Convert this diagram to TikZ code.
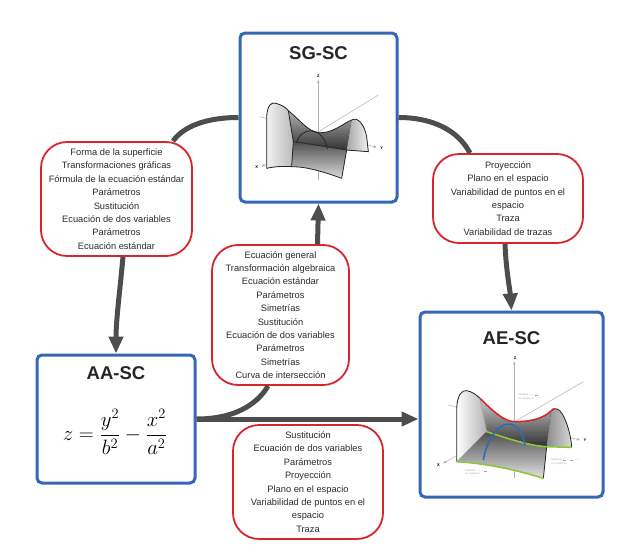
\documentclass[tikz,border=0pt]{standalone}
\usepackage{amsmath}
\usepackage{fontspec}
\setmainfont{Liberation Sans}
\usetikzlibrary{arrows.meta,calc}
\definecolor{boxblue}{HTML}{3567B5}
\definecolor{boxred}{HTML}{D7262B}
\definecolor{conncol}{HTML}{4D4D4D}
\definecolor{txt}{HTML}{2B2B2B}
\definecolor{curvered}{HTML}{D9262A}
\definecolor{curvegreen}{HTML}{8DC63F}
\definecolor{curveblue}{HTML}{2A6DB5}
% vertical gradient made of stripes: x1,x2,y1,y2,black% at y1, black% at y2
\newcommand\vstripes[6]{%
  \foreach \k in {0,...,29}{%
    \pgfmathsetmacro\ya{#3+(#4-#3)*\k/30}%
    \pgfmathsetmacro\yb{#3+(#4-#3)*(\k+1.6)/30}%
    \pgfmathsetmacro\pc{#5+(#6-#5)*\k/29}%
    \fill[black!\pc] (#1,\ya) rectangle (#2,\yb);}}
\begin{document}
\begin{tikzpicture}[x=1pt,y=-1pt,
  bluebox/.style={draw=boxblue,line width=3pt,rounded corners=5pt,fill=white,inner sep=0pt},
  redbox/.style={draw=boxred,line width=1.8pt,rounded corners=26pt,fill=white,inner sep=0pt,
    align=center,text=txt,font=\fontsize{9.3}{13.4}\selectfont},
  titletext/.style={font=\fontsize{18.5}{20}\selectfont\bfseries,text=black!85},
  link/.style={draw=conncol,line width=5pt},
  arrowlink/.style={link,-{Triangle[length=17pt,width=14pt]}},
  axisline/.style={draw=gray!60,line width=0.5pt},
  axisarrow/.style={axisline,-{Triangle[length=3pt,width=2.5pt]}},
  axislabel/.style={font=\fontsize{4}{4}\selectfont\bfseries,inner sep=0.5pt},
  edge/.style={draw=black!85,line width=0.8pt},
  tinylabel/.style={text=gray!70,inner sep=0pt,anchor=north west}
]
\useasboundingbox[fill=white] (0,0) rectangle (637,552);

% ---------- main boxes ----------
\node[bluebox,minimum width=157pt,minimum height=169pt] (sg) at (318.5,117.5) {};
\node[titletext] (sgt) at (318.5,53) {SG-SC};
\node[bluebox,minimum width=183pt,minimum height=185pt] (AE) at (511.5,404.5) {};
\node[titletext] (aet) at (511.5,338) {AE-SC};
\node[bluebox,minimum width=158pt,minimum height=128pt] (AA) at (116,419) {};
\node[titletext] (aat) at (116,373) {AA-SC};
\node (formula) at (115,432) {\fontsize{20.5}{24}\selectfont$z=\dfrac{y^2}{b^2}-\dfrac{x^2}{a^2}$};

% ---------- red boxes ----------
\node[redbox,minimum width=151pt,minimum height=114pt] (L) at (116.5,199)
  {Forma de la superficie\\Transformaciones gráficas\\Fórmula de la ecuación estándar\\Parámetros\\Sustitución\\Ecuación de dos variables\\Parámetros\\Ecuación estándar};
\node[redbox,minimum width=137pt,minimum height=140pt] (C) at (280.5,315)
  {Ecuación general\\Transformación algebraica\\Ecuación estándar\\Parámetros\\Simetrías\\Sustitución\\Ecuación de dos variables\\Parámetros\\Simetrías\\Curva de intersección};
\node[redbox,minimum width=150pt,minimum height=114pt] (B) at (308,482)
  {Sustitución\\Ecuación de dos variables\\Parámetros\\Proyección\\Plano en el espacio\\Variabilidad de puntos en el\\espacio\\Traza};
\node[redbox,minimum width=150pt,minimum height=89pt] (R) at (508,198.5)
  {Proyección\\Plano en el espacio\\Variabilidad de puntos en el\\espacio\\Traza\\Variabilidad de trazas};

% ---------- connectors ----------
\draw[link] (sg.west) .. controls (205,117.5) and (183,127) .. ([xshift=56.5pt]L.north);
\draw[arrowlink] ([xshift=6.5pt]L.south) .. controls (120,290) and (116,320) .. (AA.north);
\draw[link] (sg.east) .. controls (432,117.5) and (458,130) .. ([xshift=-38pt]R.north);
\draw[arrowlink] ([xshift=-3pt]R.south) .. controls (506,270) and (510,290) .. (AE.north);
\draw[arrowlink] (AA.east) -- (AA.east -| AE.west);
\draw[link] (AA.east) .. controls (240,419) and (260,400) .. ([xshift=-12.5pt]C.south);
\draw[arrowlink] ([xshift=37pt]C.north) -- (sg.south);

% ---------- SG-SC surface ----------
\begin{scope}[shift={(250,70)},scale=1/3]
  \draw[axisarrow] (30,140) -- (380,232);
  \node[axislabel] (sgy) at (395,233) {Y};
  \draw[axisarrow] (385,75) -- (35,290);
  \node[axislabel] (sgx) at (20,292) {X};
  \draw[axisarrow] (205,330) -- (205,30);
  \node[axislabel] (sgz) at (205,18) {Z};
  % left lobe
  \fill[left color=gray!10,right color=gray!55] (50,295) -- (50,140) .. controls (52,105) and (65,95) .. (78,100) .. controls (95,105) and (108,112) .. (115,122) -- (130,215) -- (125,290) .. controls (100,288) and (70,290) .. (50,295) -- cycle;
  % back sheet
  \begin{scope}
    \clip (115,122) .. controls (150,150) and (175,185) .. (205,188) .. controls (245,192) and (280,160) .. (305,150) -- (290,240) .. controls (240,232) and (180,222) .. (130,215) -- cycle;
    \vstripes{100}{320}{120}{242}{30}{80}
  \end{scope}
  % right lobe
  \fill[left color=gray!70,right color=gray!10] (305,150) .. controls (322,140) and (342,160) .. (350,200) -- (355,245) -- (290,240) -- cycle;
  % front sheet
  \begin{scope}
    \clip (130,215) .. controls (180,222) and (240,232) .. (290,240) -- (275,325) .. controls (220,305) and (170,290) .. (125,290) -- cycle;
    \vstripes{120}{295}{213}{327}{70}{15}
  \end{scope}
  \draw[edge] (50,295) -- (50,140) .. controls (52,105) and (65,95) .. (78,100) .. controls (95,105) and (108,112) .. (115,122) .. controls (150,150) and (175,185) .. (205,188) .. controls (245,192) and (280,160) .. (305,150) .. controls (322,140) and (342,160) .. (350,200) -- (355,245) -- (290,240);
  \draw[edge] (115,122) -- (130,215) .. controls (180,222) and (240,232) .. (290,240) -- (275,325);
  \draw[edge] (50,295) .. controls (70,290) and (100,288) .. (125,290) .. controls (170,290) and (220,305) .. (275,325);
  \draw[edge] (130,215) -- (125,290);
  \draw[edge] (140,218) .. controls (150,170) and (220,165) .. (232,238);
\end{scope}

% ---------- AE-SC surface ----------
\begin{scope}[shift={(425,350)},scale=1/3]
  \draw[axisarrow] (475,95) -- (55,340);
  \node[axislabel] (aex) at (40,345) {X};
  \draw[axisarrow] (70,165) -- (465,270);
  \node[axislabel] (aey) at (480,271) {Y};
  \draw[axisarrow] (268,385) -- (268,35);
  \node[axislabel] (aez) at (270,24) {Z};
  % left lobe
  \fill[left color=white,right color=gray!60] (95,335) -- (95,175) .. controls (97,135) and (110,120) .. (125,122) .. controls (140,124) and (155,135) .. (165,145) -- (185,245) -- cycle;
  % back sheet
  \begin{scope}
    \clip (165,145) .. controls (210,190) and (240,215) .. (270,215) .. controls (320,215) and (355,205) .. (378,183) -- (365,290) .. controls (320,288) and (260,270) .. (185,245) -- cycle;
    \vstripes{160}{385}{143}{292}{20}{80}
  \end{scope}
  % right lobe
  \fill[left color=gray!90,right color=gray!30] (378,183) .. controls (388,172) and (402,174) .. (412,192) .. controls (428,220) and (438,260) .. (440,292) -- (365,290) -- cycle;
  % front sheet
  \begin{scope}
    \clip (185,245) .. controls (260,270) and (320,288) .. (365,290) -- (355,385) .. controls (270,358) and (180,340) .. (95,335) -- cycle;
    \vstripes{90}{370}{243}{387}{70}{12}
  \end{scope}
  \draw[edge] (95,335) -- (95,175) .. controls (97,135) and (110,120) .. (125,122) .. controls (140,124) and (155,135) .. (165,145);
  \draw[edge] (378,183) .. controls (388,172) and (402,174) .. (412,192) .. controls (428,220) and (438,260) .. (440,292);
  \draw[edge,draw=gray!70] (165,145) -- (185,245);
  \draw[edge] (365,290) -- (355,385);
  \draw[draw=curvered,line width=1.6pt] (165,145) .. controls (210,190) and (240,215) .. (270,215) .. controls (320,215) and (355,205) .. (378,183) .. controls (383,178) and (386,176) .. (390,176);
  \draw[draw=curvegreen,line width=1.6pt] (185,245) .. controls (260,270) and (320,288) .. (365,290) -- (440,292);
  \draw[draw=curvegreen,line width=1.6pt] (95,335) .. controls (180,340) and (270,358) .. (355,385);
  \draw[draw=curveblue,line width=1.6pt] (175,330) .. controls (195,215) and (280,180) .. (300,285);
  \node[tinylabel] (lab1) at (280,128) {\scalebox{0.36}{\fontsize{7}{9}\selectfont\begin{tabular}{@{}l@{}}Parábola $z=\frac{y^2}{b^2}$\\[1pt] en el plano yz\end{tabular}}};
  \node[tinylabel] (lab2) at (378,322) {\scalebox{0.36}{\fontsize{7}{9}\selectfont\begin{tabular}{@{}l@{}}Hipérbola $\frac{y^2}{b^2}-\frac{x^2}{a^2}=k$\\[1pt] en el plano xy\end{tabular}}};
  \node[tinylabel] (lab3) at (120,355) {\scalebox{0.36}{\fontsize{7}{9}\selectfont\begin{tabular}{@{}l@{}}Parábola $z=-\frac{x^2}{a^2}$\\[1pt] en el plano xz\end{tabular}}};
\end{scope}
\end{tikzpicture}
\end{document}
